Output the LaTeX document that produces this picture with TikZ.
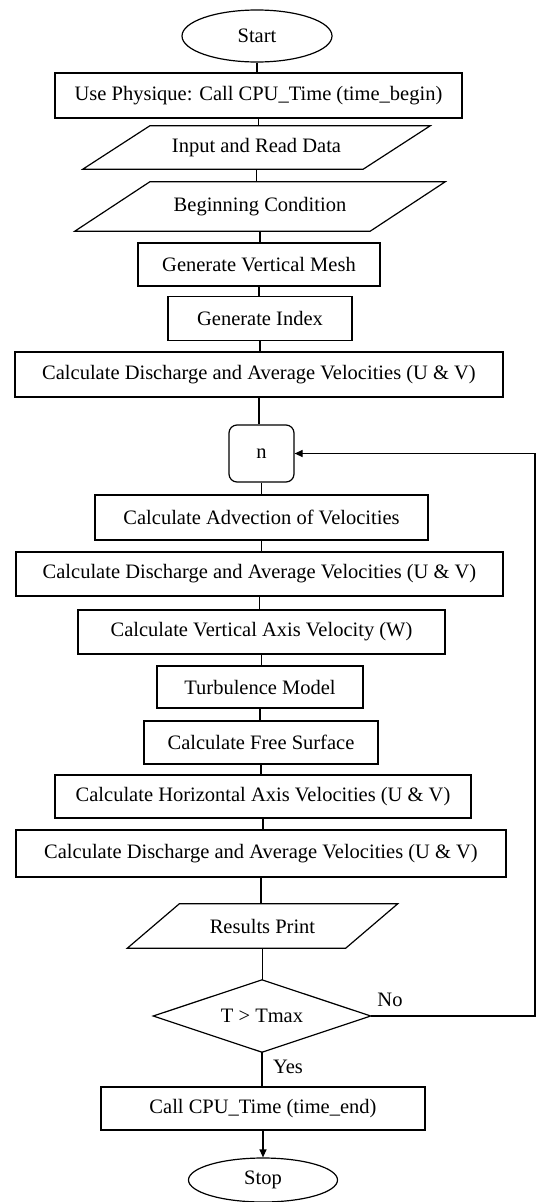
\documentclass[tikz,border=0pt]{standalone}
\usepackage{fontspec}
\setmainfont{Liberation Serif}
\usetikzlibrary{shapes.geometric,arrows.meta}
\begin{document}
\begin{tikzpicture}[x=1pt,y=-1pt,
  every node/.style={font=\fontsize{20.5}{24}\selectfont, inner sep=0pt},
  box/.style={draw, line width=1.2pt, rectangle},
  ghost/.style={rectangle},
  oval/.style={draw, line width=1.2pt, ellipse},
  conn/.style={line width=1.2pt},
  tip/.style={-{Triangle[length=8pt,width=7pt]}}]
\useasboundingbox (0,0) rectangle (537,1202);
\fill[white] (0,0) rectangle (537,1202);
% nodes
\node[oval, minimum width=150, minimum height=52] (start) at (257,36) {Start};
\node[box, minimum width=407, minimum height=45] (b1) at (258.5,95.5) {Use Physique: Call CPU\_Time (time\_begin)};
\node[ghost, minimum width=280, minimum height=43] (inp) at (256.5,147.5) {Input and Read Data};
\node[ghost, minimum width=295, minimum height=49] (beg) at (260,206.5) {Beginning Condition};
\node[box, minimum width=242, minimum height=43] (gvm) at (259,264.5) {Generate Vertical Mesh};
\node[box, minimum width=184, minimum height=44] (gi) at (260,318.5) {Generate Index};
\node[box, minimum width=488, minimum height=45] (cd1) at (259,374.5) {Calculate Discharge and Average Velocities (U \& V)};
\node[box, rounded corners=8pt, minimum width=65, minimum height=57] (n) at (261.5,453.5) {n};
\node[box, minimum width=333, minimum height=45] (adv) at (261.5,517.5) {Calculate Advection of Velocities};
\node[box, minimum width=487, minimum height=44] (cd2) at (259.5,574) {Calculate Discharge and Average Velocities (U \& V)};
\node[box, minimum width=367, minimum height=44] (w) at (261.5,632) {Calculate Vertical Axis Velocity (W)};
\node[box, minimum width=206, minimum height=42] (turb) at (260,687) {Turbulence Model};
\node[box, minimum width=234, minimum height=43] (fs) at (261,742.5) {Calculate Free Surface};
\node[box, minimum width=416, minimum height=43] (hor) at (263,796.5) {Calculate Horizontal Axis Velocities (U \& V)};
\node[box, minimum width=490, minimum height=47] (cd3) at (261,853.5) {Calculate Discharge and Average Velocities (U \& V)};
\node[ghost, minimum width=218, minimum height=44] (res) at (262.5,926) {Results Print};
\node[ghost, minimum width=217, minimum height=72] (dec) at (262,1016) {T > Tmax};
\node[box, minimum width=324, minimum height=43] (call) at (263,1108.5) {Call CPU\_Time (time\_end)};
\node[oval, minimum width=149, minimum height=44] (stop) at (263,1180) {Stop};
% parallelograms and diamond outlines
\draw[conn] ([xshift=33.5pt]inp.north west) -- ([xshift=33.5pt]inp.north east) -- ([xshift=-33.5pt]inp.south east) -- ([xshift=-33.5pt]inp.south west) -- cycle;
\draw[conn] ([xshift=37.5pt]beg.north west) -- ([xshift=37.5pt]beg.north east) -- ([xshift=-37.5pt]beg.south east) -- ([xshift=-37.5pt]beg.south west) -- cycle;
\draw[conn] ([xshift=26pt]res.north west) -- ([xshift=26pt]res.north east) -- ([xshift=-26pt]res.south east) -- ([xshift=-26pt]res.south west) -- cycle;
\draw[conn] (dec.north) -- (dec.east) -- (dec.south) -- (dec.west) -- cycle;
% connectors
\draw[conn] (start.south) -- (start.south |- b1.north);
\draw[conn] (b1.south) -- (b1.south |- inp.north);
\draw[conn] (inp.south) -- (inp.south |- beg.north);
\draw[conn] (beg.south) -- (beg.south |- gvm.north);
\draw[conn] (gvm.south) -- (gvm.south |- gi.north);
\draw[conn] (gi.south) -- (gi.south |- cd1.north);
\draw[conn] (cd1.south) -- (cd1.south |- n.north);
\draw[conn] (n.south) -- (n.south |- adv.north);
\draw[conn] (adv.south) -- (adv.south |- cd2.north);
\draw[conn] (cd2.south) -- (cd2.south |- w.north);
\draw[conn] (w.south) -- (w.south |- turb.north);
\draw[conn] (turb.south) -- (turb.south |- fs.north);
\draw[conn] (fs.south) -- (fs.south |- hor.north);
\draw[conn] (hor.south) -- (hor.south |- cd3.north);
\draw[conn] (cd3.south) -- (cd3.south |- res.north);
\draw[conn] (res.south) -- (res.south |- dec.north);
\draw[conn] (dec.south) -- (dec.south |- call.north);
\draw[conn, tip] (call.south) -- (call.south |- stop.north);
\coordinate (loopx) at (535,0);
\draw[conn, tip] (dec.east) -- (dec.east -| loopx) |- (n.east);
% labels
\node (no) at (390,1000) {No};
\node (yes) at (288,1067) {Yes};
\end{tikzpicture}
\end{document}
